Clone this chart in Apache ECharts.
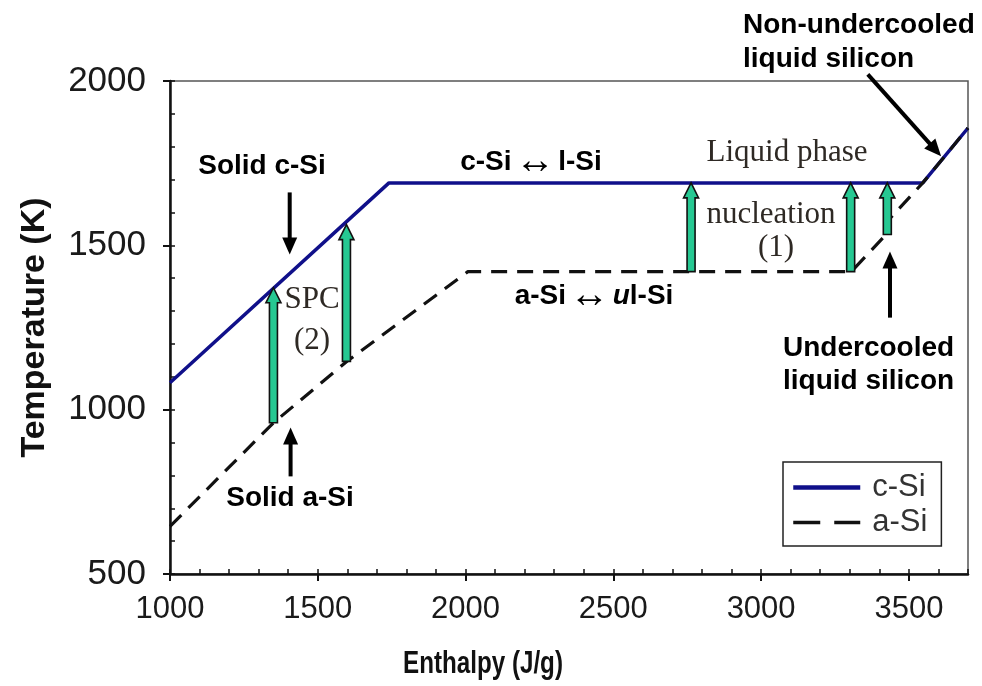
<!DOCTYPE html>
<html>
<head>
<meta charset="utf-8">
<script src="https://cdn.jsdelivr.net/npm/echarts@6/dist/echarts.min.js"></script>
<style>
  html, body { margin: 0; padding: 0; background: #fff; }
  #chart { width: 982px; height: 686px; }
</style>
</head>
<body>
<div id="chart"></div>
<script>
// Enthalpy–temperature paths of crystalline and amorphous silicon
const xMajorTicks = [1000, 1500, 2000, 2500, 3000, 3500];
const yMajorTicks = [500, 1000, 1500, 2000];

// [enthalpy J/g, temperature K]
const cSi = [[1000, 1082], [1741, 1690], [3547, 1690], [3700, 1857]];
const aSi = [[1000, 645], [1200, 825], [1350, 960], [1600, 1148], [2008, 1420],
             [3305, 1420], [3423, 1533], [3426, 1572], [3547, 1690], [3700, 1857]];

// transition arrows: [enthalpy, T from, T to]
const transitionArrows = [
  [1350, 960, 1371],
  [1597, 1147, 1563],
  [2763, 1420, 1690],
  [3303, 1420, 1690],
  [3427, 1533, 1690]
];

// pointer arrows: [H start, T start, H tip, T tip]
const pointerArrows = [
  [1405, 1661, 1405, 1472],
  [1408, 797, 1408, 946],
  [3361, 2020, 3609, 1771],
  [3436, 1280, 3436, 1481]
];

const SANS = 'Liberation Sans, Arial, sans-serif';
const SERIF = 'Liberation Serif, Times New Roman, serif';

const chart = echarts.init(document.getElementById('chart'), null, { renderer: 'canvas' });

function greenArrow(params, api) {
  const a = api.coord([api.value(0), api.value(1)]);
  const b = api.coord([api.value(0), api.value(2)]);
  const x = a[0], y0 = a[1], y1 = b[1];
  const sw = 4, hw = 7.5, hl = 15;
  return {
    type: 'polygon',
    shape: { points: [[x - sw, y0], [x - sw, y1 + hl], [x - hw, y1 + hl], [x, y1],
                      [x + hw, y1 + hl], [x + sw, y1 + hl], [x + sw, y0]] },
    style: { fill: '#26c892', stroke: '#111', lineWidth: 1.6 }
  };
}

function blackArrow(params, api) {
  const a = api.coord([api.value(0), api.value(1)]);
  const b = api.coord([api.value(2), api.value(3)]);
  const dx = b[0] - a[0], dy = b[1] - a[1];
  const len = Math.sqrt(dx * dx + dy * dy);
  const ux = dx / len, uy = dy / len;
  const hl = 17, hw = 7.5;
  const bx = b[0] - ux * hl, by = b[1] - uy * hl;
  return {
    type: 'group',
    children: [
      { type: 'line', shape: { x1: a[0], y1: a[1], x2: bx + ux * 2, y2: by + uy * 2 },
        style: { stroke: '#000', lineWidth: 4 } },
      { type: 'polygon',
        shape: { points: [[b[0], b[1]], [bx - uy * hw, by + ux * hw], [bx + uy * hw, by - ux * hw]] },
        style: { fill: '#000' } }
    ]
  };
}

function txt(text, x, y, font, opts) {
  return {
    type: 'text', z: 50,
    style: Object.assign({ text: text, x: x, y: y, font: font, fill: '#000',
                           align: 'center', verticalAlign: 'middle' }, opts || {})
  };
}

const boldFont = 'bold 28px ' + SANS;
const serifFont = '31px ' + SERIF;
const serifColor = '#2e2924';
const arrowFont = '40px ' + SANS;

const option = {
  backgroundColor: '#fff',
  animation: false,
  grid: { left: 170, right: 14, top: 81, bottom: 112, show: true,
          borderColor: '#555', borderWidth: 1.5, backgroundColor: 'transparent' },
  legend: {
    orient: 'vertical', left: 783, top: 462,
    itemWidth: 67, itemHeight: 14, itemGap: 4,
    padding: [10, 14, 8, 8],
    borderColor: '#222', borderWidth: 1.5,
    textStyle: { fontSize: 31, fontFamily: SANS, color: '#333', lineHeight: 30, padding: [0, 0, 0, 7] },
    data: [
      { name: 'c-Si', lineStyle: { width: 4.5, color: '#10108a' }, itemStyle: { opacity: 0 } },
      { name: 'a-Si', lineStyle: { width: 3.5, color: '#111', type: [27, 14] }, itemStyle: { opacity: 0 } }
    ]
  },
  xAxis: [
    {
      type: 'value', min: 1000, max: 3700, interval: 500, position: 'bottom',
      axisLine: { show: true, onZero: false, lineStyle: { color: '#111', width: 2.5 } },
      axisTick: { show: true, inside: false, length: 7, customValues: xMajorTicks,
                  lineStyle: { color: '#111', width: 2 } },
      axisLabel: { fontSize: 31, fontFamily: SANS, color: '#1a1a1a', margin: 20,
                   customValues: xMajorTicks, formatter: v => String(v) },
      splitLine: { show: false }
    },
    {
      type: 'value', min: 1000, max: 3700, interval: 100, position: 'bottom',
      axisLine: { show: false },
      axisTick: { show: true, inside: true, length: 5, lineStyle: { color: '#111', width: 1.5 } },
      axisLabel: { show: false },
      splitLine: { show: false }
    }
  ],
  yAxis: [
    {
      type: 'value', min: 500, max: 2000, interval: 500, position: 'left',
      name: 'Temperature (K)', nameLocation: 'middle', nameGap: 118, nameRotate: 90,
      nameTextStyle: { fontSize: 34, fontWeight: 'bold', fontFamily: SANS, color: '#111' },
      axisLine: { show: true, onZero: false, lineStyle: { color: '#111', width: 2.5 } },
      axisTick: { show: true, inside: false, length: 7, customValues: yMajorTicks,
                  lineStyle: { color: '#111', width: 2 } },
      axisLabel: { fontSize: 35, fontFamily: SANS, color: '#1a1a1a', margin: 24,
                   customValues: yMajorTicks, formatter: v => String(v) },
      splitLine: { show: false }
    },
    {
      type: 'value', min: 500, max: 2000, interval: 100, position: 'left',
      axisLine: { show: false },
      axisTick: { show: true, inside: true, length: 5, lineStyle: { color: '#111', width: 1.5 } },
      axisLabel: { show: false },
      splitLine: { show: false }
    }
  ],
  series: [
    {
      name: 'c-Si', type: 'line', data: cSi, symbol: 'none', z: 3,
      lineStyle: { color: '#10108a', width: 3.5 }, itemStyle: { color: '#10108a' }
    },
    {
      name: 'a-Si', type: 'line', data: aSi, symbol: 'none', z: 4,
      lineStyle: { color: '#111', width: 3.2, type: [16, 10] }, itemStyle: { color: '#111' }
    },
    {
      name: 'transitions', type: 'custom', data: transitionArrows, z: 6, clip: false,
      encode: { x: 0, y: [1, 2] }, renderItem: greenArrow
    },
    {
      name: 'pointers', type: 'custom', data: pointerArrows, z: 7, clip: false,
      encode: { x: [0, 2], y: [1, 3] }, renderItem: blackArrow
    }
  ],
  graphic: [
    {
      type: 'text', z: 50, x: 483, y: 664, scaleX: 0.78,
      style: { text: 'Enthalpy (J/g)', x: 0, y: 0, font: 'bold 31px ' + SANS, fill: '#111',
               align: 'center', verticalAlign: 'middle' }
    },
    txt('Solid c-Si', 262, 166, boldFont),
    txt('Solid a-Si', 290, 498, boldFont),
    txt('SPC', 312, 300, serifFont, { fill: serifColor }),
    txt('(2)', 312, 341, serifFont, { fill: serifColor }),
    {
      type: 'text', z: 50,
      style: {
        x: 531, y: 162, align: 'center', verticalAlign: 'middle',
        text: '{b|c-Si} {s|↔} {b|l-Si}',
        rich: {
          b: { font: boldFont, fill: '#000' },
          s: { font: arrowFont, fill: '#000' }
        }
      }
    },
    {
      type: 'text', z: 50,
      style: {
        x: 594, y: 296, align: 'center', verticalAlign: 'middle',
        text: '{b|a-Si} {s|↔} {i|u}{b|l-Si}',
        rich: {
          b: { font: boldFont, fill: '#000' },
          i: { font: 'italic bold 28px ' + SANS, fill: '#000' },
          s: { font: arrowFont, fill: '#000' }
        }
      }
    },
    txt('Liquid phase', 787, 153, serifFont, { fill: serifColor }),
    txt('nucleation', 771, 215, serifFont, { fill: serifColor }),
    txt('(1)', 776, 248, serifFont, { fill: serifColor }),
    txt('Non-undercooled', 743, 25, boldFont, { align: 'left' }),
    txt('liquid silicon', 743, 59, boldFont, { align: 'left' }),
    txt('Undercooled', 783, 348, boldFont, { align: 'left' }),
    txt('liquid silicon', 783, 381, boldFont, { align: 'left' })
  ]
};

chart.setOption(option);
</script>
</body>
</html>
